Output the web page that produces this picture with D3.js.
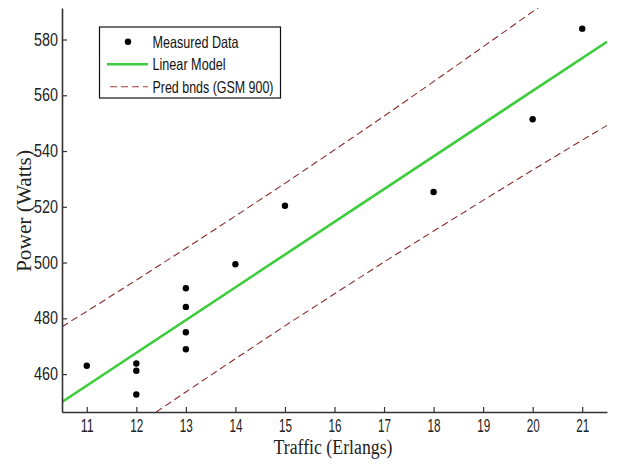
<!DOCTYPE html>
<html>
<head>
<meta charset="utf-8">
<script src="https://cdn.jsdelivr.net/npm/d3@7"></script>
<style>
  body { margin: 0; background: #fff; }
  svg { display: block; }
</style>
</head>
<body>
<svg id="chart"></svg>
<script>
// measured points
var traffic = [11, 12, 12, 12, 13, 13, 13, 13, 14, 15, 18, 20, 21];
var power = [463, 463.8, 461.2, 452.7, 490.8, 484.1, 475, 468.9, 499.4, 520.4, 525.3, 551.4, 583.9];

// linear model (end points)
var fitX = [10.5, 21.5];
var fitY = [450, 579.2];

// prediction bounds
var upperX = [10.5, 11, 12, 13, 14, 15, 16, 17, 18, 19, 20, 20.3];
var upperY = [477, 482.5, 493.7, 505.1, 516.7, 528.4, 540.4, 552.5, 564.9, 577.4, 590, 593.8];
var lowerX = [12.4, 13, 14, 15, 16, 17, 18, 19, 20, 21, 21.5];
var lowerY = [446.4, 453.6, 465.5, 477.3, 488.8, 500.2, 511.3, 522.3, 533.2, 543.9, 549.2];

var xTicks = [11, 12, 13, 14, 15, 16, 17, 18, 19, 20, 21];
var yTicks = [460, 480, 500, 520, 540, 560, 580];

var legendLabels = ['Measured Data', 'Linear Model', 'Pred bnds (GSM 900)'];

var width = 621,
    height = 470;

var svg = d3.select('#chart')
    .attr('width', width)
    .attr('height', height);

var x = d3.scaleLinear().domain([10.5, 21.5]).range([62, 607]);
var y = d3.scaleLinear().domain([446.4, 591.3]).range([412, 8]);

var tickFont = '"Liberation Sans", Arial, sans-serif';
var serifFont = '"Liberation Serif", "Times New Roman", serif';

svg.append('clipPath').attr('id', 'plotClip')
    .append('rect')
    .attr('x', x.range()[0])
    .attr('y', y.range()[1])
    .attr('width', x.range()[1] - x.range()[0])
    .attr('height', y.range()[0] - y.range()[1]);

var plot = svg.append('g').attr('clip-path', 'url(#plotClip)');

function toPoints(xs, ys) {
    return xs.map(function (d, i) { return [d, ys[i]]; });
}

var line = d3.line()
    .x(function (d) { return x(d[0]); })
    .y(function (d) { return y(d[1]); });

// bounds
[toPoints(upperX, upperY), toPoints(lowerX, lowerY)].forEach(function (pts) {
    plot.append('path')
        .attr('d', line(pts))
        .attr('fill', 'none')
        .attr('stroke', '#8c2a2a')
        .attr('stroke-width', 1.1)
        .attr('stroke-dasharray', '7,4');
});

// fit
plot.append('path')
    .attr('d', line(toPoints(fitX, fitY)))
    .attr('fill', 'none')
    .attr('stroke', '#3ccc3c')
    .attr('stroke-width', 2.6);

// data
plot.selectAll('.pt')
    .data(traffic)
    .enter().append('circle')
    .attr('class', 'pt')
    .attr('cx', function (d) { return x(d); })
    .attr('cy', function (d, i) { return y(power[i]); })
    .attr('r', 3.2)
    .attr('fill', '#000');

// axes
var xAxis = d3.axisBottom(x).tickValues(xTicks).tickSizeInner(-5).tickSizeOuter(0).tickPadding(8);
var yAxis = d3.axisLeft(y).tickValues(yTicks).tickSizeInner(-5).tickSizeOuter(0).tickPadding(4);

var gx = svg.append('g')
    .attr('transform', 'translate(0,' + y.range()[0] + ')')
    .call(xAxis);
var gy = svg.append('g')
    .attr('transform', 'translate(' + x.range()[0] + ',0)')
    .call(yAxis);

[gx, gy].forEach(function (g) {
    g.select('.domain').attr('stroke', '#333').attr('stroke-width', 1.6);
    g.selectAll('.tick line').attr('stroke', '#333').attr('stroke-width', 1.2);
    g.selectAll('.tick text')
        .attr('fill', '#222')
        .style('font-family', tickFont)
        .style('font-size', '17.5px')
        .attr('lengthAdjust', 'spacingAndGlyphs');
});
gx.selectAll('.tick text').attr('textLength', 13);
gy.selectAll('.tick text').attr('textLength', 24);

// axis labels
svg.append('text')
    .attr('x', 333)
    .attr('y', 454)
    .attr('text-anchor', 'middle')
    .attr('textLength', 119)
    .attr('lengthAdjust', 'spacingAndGlyphs')
    .style('font-family', serifFont)
    .style('font-size', '20px')
    .attr('fill', '#222')
    .text('Traffic (Erlangs)');

svg.append('text')
    .attr('transform', 'translate(31,211) rotate(-90)')
    .attr('text-anchor', 'middle')
    .attr('textLength', 122)
    .attr('lengthAdjust', 'spacingAndGlyphs')
    .style('font-family', serifFont)
    .style('font-size', '20px')
    .attr('fill', '#222')
    .text('Power (Watts)');

// legend
var legend = svg.append('g');
legend.append('rect')
    .attr('x', 99.5).attr('y', 27)
    .attr('width', 181).attr('height', 71)
    .attr('fill', '#fff')
    .attr('stroke', '#111')
    .attr('stroke-width', 1.2);

var legendLengths = [86, 73, 121];
legendLabels.forEach(function (label, i) {
    var cy = 41.7 + i * 22.5;
    if (i === 0) {
        legend.append('circle').attr('cx', 128).attr('cy', cy).attr('r', 3.2).attr('fill', '#000');
    } else if (i === 1) {
        legend.append('line').attr('x1', 107).attr('x2', 148).attr('y1', cy).attr('y2', cy)
            .attr('stroke', '#3ccc3c').attr('stroke-width', 2.6);
    } else {
        legend.append('line').attr('x1', 110).attr('x2', 148).attr('y1', cy).attr('y2', cy)
            .attr('stroke', '#a03a3a').attr('stroke-width', 1.1).attr('stroke-dasharray', '7,4');
    }
    legend.append('text')
        .attr('x', 152.5)
        .attr('y', cy + 6)
        .attr('textLength', legendLengths[i])
        .attr('lengthAdjust', 'spacingAndGlyphs')
        .style('font-family', tickFont)
        .style('font-size', '16.5px')
        .attr('fill', '#111')
        .text(label);
});
</script>
</body>
</html>
